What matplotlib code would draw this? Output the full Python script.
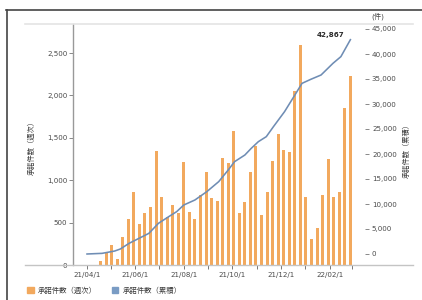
import matplotlib
matplotlib.use('Agg')
import matplotlib.pyplot as plt
import matplotlib.dates as mdates
from matplotlib.patches import Patch
from matplotlib.lines import Line2D
import pandas as pd

plt.rcParams['font.family'] = ['DejaVu Sans', 'Noto Sans CJK JP']

# ---- data ----
week_start = '2021-04-18'
weekly = [47, 145, 236, 70, 326, 542, 857, 480, 613, 680, 1344, 806, 570, 708, 610, 1218,
          629, 542, 825, 1100, 794, 758, 1258,
          1199, 1584, 610, 747, 1093, 1407, 590, 857, 1226, 1541, 1356, 1336, 2052, 2594,
          806, 303, 440, 825, 1247, 806, 857, 1848, 2229]
cum_dates = ['2021-04-01', '2021-04-20', '2021-05-06', '2021-05-13', '2021-05-24', '2021-06-03',
             '2021-06-18', '2021-06-30', '2021-07-13', '2021-07-23', '2021-08-01', '2021-08-15',
             '2021-08-30', '2021-09-14', '2021-09-26', '2021-10-04', '2021-10-17', '2021-10-25',
             '2021-11-03', '2021-11-13', '2021-11-22', '2021-12-06', '2021-12-19', '2021-12-28',
             '2022-01-08', '2022-01-21', '2022-02-05', '2022-02-15', '2022-02-27']
cum_values = [0, 130, 600, 1000, 2130, 2930, 4130, 6130, 7470, 8470, 9800, 10800, 12470, 14470,
              16800, 18470, 19800, 21130, 22470, 23470, 25470, 28470, 31800, 34130, 34930,
              35800, 38130, 39470, 42867]
final_label = '42,867'
xtick_labels = ['21/04/1', '', '21/06/1', '', '21/08/1', '', '21/10/1', '', '21/12/1', '',
                '22/02/1', '']
left_ticks = [0, 500, 1000, 1500, 2000, 2500]
right_ticks = [0, 5000, 10000, 15000, 20000, 25000, 30000, 35000, 40000, 45000]
label_weekly = '承諾件数（週次）'
label_cum = '承諾件数（累積）'
unit_label = '(件)'

orange = '#F2A95E'
blue = '#6F8DB4'
tick_col = '#4a4a4a'
fs = 5.1

week_dates = pd.date_range(week_start, periods=len(weekly), freq='7D')
cum_dt = pd.to_datetime(cum_dates)
month_ticks = pd.date_range('2021-04-01', periods=len(xtick_labels), freq='MS')

W, H = 422, 300
fig = plt.figure(figsize=(W / 100, H / 100), dpi=100)
ax = fig.add_axes([73 / W, 35 / H, (365 - 73) / W, (265 - 24) / H])

ax.bar(week_dates, weekly, width=3.8, color=orange, zorder=2)
ax.set_ylim(0, 2842)
apr1 = mdates.date2num(pd.Timestamp('2021-04-01'))
ax.set_xlim(apr1 - 17.65, apr1 + 350.4)

ax2 = ax.twinx()
ax2.plot(cum_dt, cum_values, color=blue, lw=1.15, zorder=3)
ax2.set_ylim(-2200, 46000)
ax2.annotate(final_label, xy=(cum_dt[-1], cum_values[-1]), xytext=(-4, 2),
             textcoords='offset points', ha='right', va='baseline',
             fontsize=fs, fontweight='bold', color='#2a2a2a')

for s in ['top', 'right', 'bottom']:
    ax.spines[s].set_visible(False)
ax.spines['left'].set_color('#999999')
ax.spines['left'].set_linewidth(1.0)
for s in ax2.spines.values():
    s.set_visible(False)

ax.set_yticks(left_ticks)
ax.set_yticklabels([f'{v:,}' for v in left_ticks])
ax.tick_params(axis='y', length=3, width=0.7, color='#888888', labelsize=fs,
               labelcolor=tick_col, pad=1)
ax2.set_yticks(right_ticks)
ax2.set_yticklabels([f'{v:,}' for v in right_ticks])
ax2.tick_params(axis='y', length=3, width=0.7, color='#888888', labelsize=fs,
                labelcolor=tick_col, pad=2)
ax.set_xticks(month_ticks)
ax.set_xticklabels(xtick_labels)
ax.tick_params(axis='x', length=3, width=0.7, color='#777777', labelsize=fs,
               labelcolor=tick_col, pad=2)

# frame lines
fig.add_artist(Line2D([25 / W, 413 / W], [1 - 24 / H] * 2, color='#e4e4e4', lw=1.2))
fig.add_artist(Line2D([25 / W, 413 / W], [1 - 265 / H] * 2, color='#c4c4c4', lw=1.0))
fig.add_artist(Line2D([6 / W, 1], [1 - 9.5 / H] * 2, color='#444444', lw=1.2))
fig.add_artist(Line2D([7 / W] * 2, [0, 1 - 9.5 / H], color='#444444', lw=1.2))

fig.text(31 / W, 1 - 146 / H, label_weekly, rotation=90, ha='center', va='center',
         fontsize=5.2, color='#3a3a3a')
fig.text(406 / W, 1 - 149 / H, label_cum, rotation=90, ha='center', va='center',
         fontsize=5.2, color='#3a3a3a')
fig.text(378 / W, 1 - 16 / H, unit_label, ha='center', va='center', fontsize=5.2,
         color='#4a4a4a')

fig.legend(handles=[Patch(color=orange), Patch(color='#7A9CC4')],
           labels=[label_weekly, label_cum], loc='center left',
           bbox_to_anchor=(27 / W, 1 - 290 / H), ncol=2, frameon=False, fontsize=5.3,
           handlelength=0.9, handleheight=0.9, handletextpad=0.6, columnspacing=2.0,
           borderaxespad=0, borderpad=0, labelcolor='#3a3a3a')

fig.savefig('out.png', dpi=100)
